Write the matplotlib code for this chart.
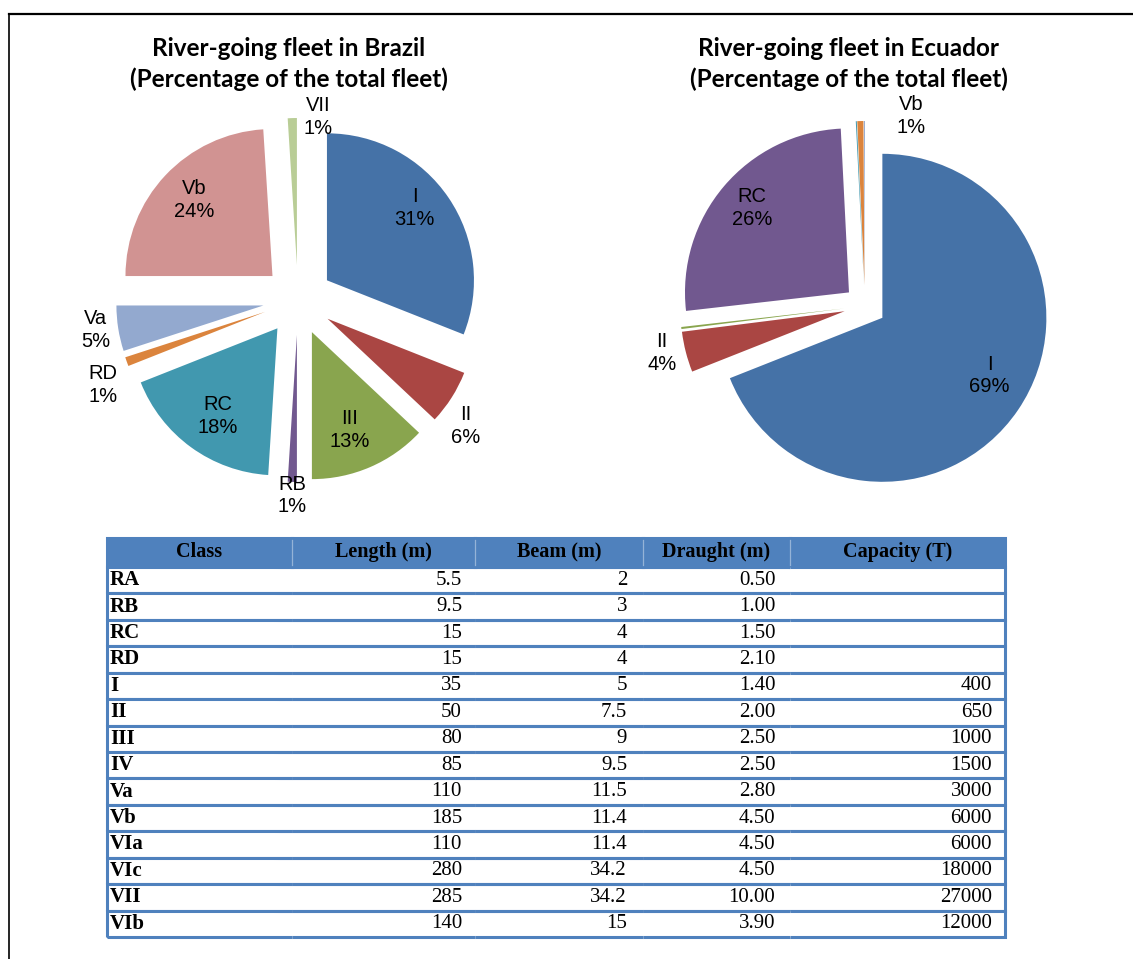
import matplotlib
matplotlib.use('Agg')
import matplotlib.pyplot as plt
from matplotlib.lines import Line2D
import numpy as np

W, H = 1133, 959

# ---------------- data ----------------
br_classes = ['I', 'II', 'III', 'RB', 'RC', 'RD', 'Va', 'Vb', 'VII']
br_share = [31, 6, 13, 1, 18, 1, 5, 24, 1]

ec_classes = ['I', 'II', 'III', 'RC', 'RD', 'Vb', 'VII']
ec_share = [69, 4, 0.2, 26, 0.1, 0.6, 0.1]
ec_show = [True, True, False, True, False, True, False]

tbl_header = ['Class', 'Length (m)', 'Beam (m)', 'Draught (m)', 'Capacity (T)']
tbl_class = ['RA', 'RB', 'RC', 'RD', 'I', 'II', 'III', 'IV', 'Va', 'Vb', 'VIa', 'VIc', 'VII', 'VIb']
tbl_length = [5.5, 9.5, 15, 15, 35, 50, 80, 85, 110, 185, 110, 280, 285, 140]
tbl_beam = [2, 3, 4, 4, 5, 7.5, 9, 9.5, 11.5, 11.4, 11.4, 34.2, 34.2, 15]
tbl_draught = [0.50, 1.00, 1.50, 2.10, 1.40, 2.00, 2.50, 2.50, 2.80, 4.50, 4.50, 4.50, 10.00, 3.90]
tbl_capacity = [None, None, None, None, 400, 650, 1000, 1500, 3000, 6000, 6000, 18000, 27000, 12000]

# ---------------- styles ----------------
palette = ['#4572A7', '#AA4643', '#89A54E', '#71588F', '#4198AF',
           '#DB843D', '#93A9CF', '#D19392', '#B9CD96']
br_colors = palette[:len(br_share)]
ec_colors = ['#4572A7', '#AA4643', '#89A54E', '#71588F', '#4198AF', '#DB843D', '#93A9CF']

lab_font = dict(family='Liberation Sans', fontsize=14.5)
title_font = dict(family='Lato', fontsize=17.5, fontweight='bold')

fig = plt.figure(figsize=(W / 100, H / 100), dpi=100)
ax = fig.add_axes([0, 0, 1, 1])


def draw_pie(vals, colors, names, show, cx, cy, R, expl, dist, nudge):
    ax.pie(vals, colors=colors, startangle=90, counterclock=False,
           explode=[expl] * len(vals), radius=R, center=(cx, cy),
           wedgeprops=dict(linewidth=0))
    total = float(sum(vals))
    cum = 0.0
    for i, v in enumerate(vals):
        mid = 360.0 * (cum + v / 2.0) / total
        cum += v
        if not show[i]:
            continue
        a = np.radians(mid + nudge[i])
        x = cx + dist[i] * R * np.sin(a)
        y = cy + dist[i] * R * np.cos(a)
        ax.text(x, y, f'{names[i]}\n{round(v):.0f}%', ha='center', va='center',
                linespacing=1.25, **lab_font)


# Brazil pie
draw_pie(br_share, br_colors, br_classes, [True] * len(br_share),
         298, H - 300, 147, 35,
         dist=[1.01, 1.43, 0.95, 1.33, 0.96, 1.45, 1.39, 0.98, 1.25],
         nudge=[-4, 4.5, 1.6, 0, -1.4, -3.8, 0.6, 0.7, 8])

# Ecuador pie
draw_pie(ec_share, ec_colors, ec_classes, ec_show,
         865, H - 306, 164, 21,
         dist=[0.87, 1.27, 1, 0.91, 1, 1.19, 1],
         nudge=[-5, 1.4, 0, 0.6, 0, 15, 0])

ax.set_xlim(0, W)
ax.set_ylim(0, H)
ax.set_aspect('auto')
ax.axis('off')

# titles
ax.text(289, H - 48, 'River-going fleet in Brazil', ha='center', va='center', **title_font)
ax.text(289, H - 79, '(Percentage of the total fleet)', ha='center', va='center', **title_font)
ax.text(849, H - 48, 'River-going fleet in Ecuador', ha='center', va='center', **title_font)
ax.text(849, H - 79, '(Percentage of the total fleet)', ha='center', va='center', **title_font)

# frame lines
fig.add_artist(Line2D([9 / W, 1], [1 - 14 / H, 1 - 14 / H], transform=fig.transFigure,
                      color='black', lw=1.6))
fig.add_artist(Line2D([9 / W, 9 / W], [1 - 14 / H, 0], transform=fig.transFigure,
                      color='black', lw=1.2))

# ---------------- table ----------------
rows = []
for c, l, b, d, cap in zip(tbl_class, tbl_length, tbl_beam, tbl_draught, tbl_capacity):
    rows.append([c, f'{l:g}', f'{b:g}', f'{d:.2f}', '' if cap is None else f'{cap:d}'])

col_px = [185, 183, 168, 147, 215]
col_w = [c / sum(col_px) for c in col_px]
pads = [0.016, 0.071, 0.095, 0.10, 0.06]
head_h, row_h = 29.0, 26.43

tax = fig.add_axes([107 / W, (H - 937) / H, (1005 - 107) / W, (937 - 538) / H])
tax.set_xlim(0, 1)
tax.set_ylim(0, 1)
tax.axis('off')
table = tax.table(cellText=rows, colLabels=tbl_header, colWidths=col_w,
                  cellLoc='right', bbox=[0, 0, 1, 1])
table.auto_set_font_size(False)
table.set_fontsize(15)

blue = '#4F81BD'
ncol = len(tbl_header)
for (r, c), cell in table.get_celld().items():
    cell.PAD = pads[c]
    if r == 0:
        cell.set_height(head_h)
        cell.set_facecolor(blue)
        cell.set_edgecolor(blue)
        cell.set_linewidth(2.2)
        cell.visible_edges = 'closed'
        cell.set_text_props(ha='center', family='Liberation Serif', fontweight='bold',
                            fontsize=14.5, color='black')
    else:
        cell.set_height(row_h)
        cell.set_facecolor('white')
        cell.set_edgecolor(blue)
        cell.set_linewidth(2.2)
        cell.visible_edges = 'BTL' if c == 0 else ('BTR' if c == ncol - 1 else 'BT')
        if c == 0:
            cell.set_text_props(ha='left', family='Liberation Serif', fontweight='bold',
                                fontsize=15, color='black')
        else:
            cell.set_text_props(ha='right', family='Liberation Serif',
                                fontsize=15, color='black')

# faint separators inside the header band
total_h = head_h + row_h * len(rows)
hdr_bottom = 1 - head_h / total_h
xb = np.cumsum(col_w)[:-1]
for xv in xb:
    tax.add_line(Line2D([xv, xv], [hdr_bottom + 0.004, 0.996], color='#95B3D7', lw=0.9,
                        zorder=5))

fig.savefig('out.png', dpi=100)
